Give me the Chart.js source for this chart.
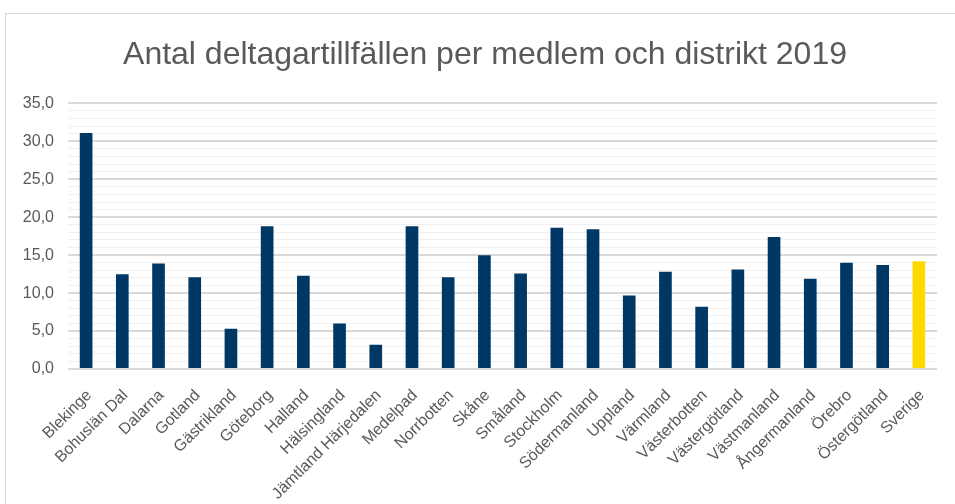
<!DOCTYPE html>
<html lang="sv">
<head>
    <meta charset="UTF-8">
    <title>Antal deltagartillfällen per medlem och distrikt 2019</title>
    <script src="https://cdn.jsdelivr.net/npm/chart.js@4.4.0/dist/chart.umd.min.js"></script>
    <style>
        body {
            margin: 0;
            background: #ffffff;
            overflow: hidden;
        }
        .frame {
            position: absolute;
            left: 5px;
            top: 13px;
            width: 1200px;
            height: 800px;
            border: 1px solid #d9d9d9;
        }
        .chart-container {
            position: absolute;
            left: 0;
            top: 0;
            width: 955px;
            height: 504px;
        }
    </style>
</head>
<body>
    <div class="frame"></div>
    <div class="chart-container">
        <canvas id="distriktChart"></canvas>
    </div>

    <script>
        // Distrikt (x-axis categories)
        const districts = [
            'Blekinge', 'Bohuslän Dal', 'Dalarna', 'Gotland', 'Gästrikland', 'Göteborg',
            'Halland', 'Hälsingland', 'Jämtland Härjedalen', 'Medelpad', 'Norrbotten', 'Skåne',
            'Småland', 'Stockholm', 'Södermanland', 'Uppland', 'Värmland', 'Västerbotten',
            'Västergötland', 'Västmanland', 'Ångermanland', 'Örebro', 'Östergötland', 'Sverige'
        ];

        // Deltagartillfällen per medlem
        const perMember = [
            31.1, 12.5, 13.9, 12.1, 5.3, 18.8,
            12.3, 6.0, 3.2, 18.8, 12.1, 15.0,
            12.6, 18.6, 18.4, 9.7, 12.8, 8.2,
            13.1, 17.4, 11.9, 14.0, 13.7, 14.2
        ];

        // y-axis range
        const yMin = 0;
        const yMax = 35;
        const majorStep = 5;

        const navy = '#003865';
        const yellow = '#ffda00';
        const textGrey = '#595959';
        const fontFamily = "'Liberation Sans', Arial, sans-serif";

        const barColors = districts.map(d => d === 'Sverige' ? yellow : navy);

        const ctx = document.getElementById('distriktChart').getContext('2d');
        const chart = new Chart(ctx, {
            type: 'bar',
            data: {
                labels: districts,
                datasets: [{
                    label: 'Antal deltagartillfällen per medlem',
                    data: perMember,
                    backgroundColor: barColors,
                    borderWidth: 0,
                    categoryPercentage: 1.0,
                    barPercentage: 0.35
                }]
            },
            options: {
                responsive: true,
                maintainAspectRatio: false,
                animation: false,
                layout: {
                    padding: { top: 0, left: 23, right: 8, bottom: 0 }
                },
                scales: {
                    x: {
                        grid: { display: false },
                        border: { display: false },
                        afterFit: s => { s.height = 135; },
                        ticks: {
                            color: textGrey,
                            font: { family: fontFamily, size: 16 },
                            minRotation: 45,
                            maxRotation: 45,
                            autoSkip: false,
                            labelOffset: 3,
                            padding: 9
                        }
                    },
                    y: {
                        min: yMin,
                        max: yMax,
                        border: { display: false },
                        afterFit: s => { s.width = 45; },
                        grid: {
                            drawTicks: false,
                            color: c => (c.tick.value % majorStep === 0) ? '#d9d9d9' : '#f0f0f0',
                            lineWidth: c => (c.tick.value % majorStep === 0) ? 2 : 1
                        },
                        ticks: {
                            stepSize: 1,
                            autoSkip: false,
                            padding: 14,
                            color: textGrey,
                            font: { family: fontFamily, size: 16 },
                            callback: v => (v % majorStep === 0) ? v.toFixed(1).replace('.', ',') : ''
                        }
                    },
                    // empty spacer on the right so the title sits a bit right of the plot centre
                    spacer: {
                        type: 'linear',
                        position: 'right',
                        grid: { display: false },
                        border: { display: false },
                        ticks: { display: false },
                        afterFit: s => { s.width = 10; }
                    }
                },
                plugins: {
                    legend: { display: false },
                    tooltip: { enabled: false },
                    title: {
                        display: true,
                        text: 'Antal deltagartillfällen per medlem och distrikt 2019',
                        color: textGrey,
                        font: { family: fontFamily, size: 32, weight: 'normal' },
                        padding: { top: 36, bottom: 29 }
                    }
                }
            }
        });
    </script>
</body>
</html>
